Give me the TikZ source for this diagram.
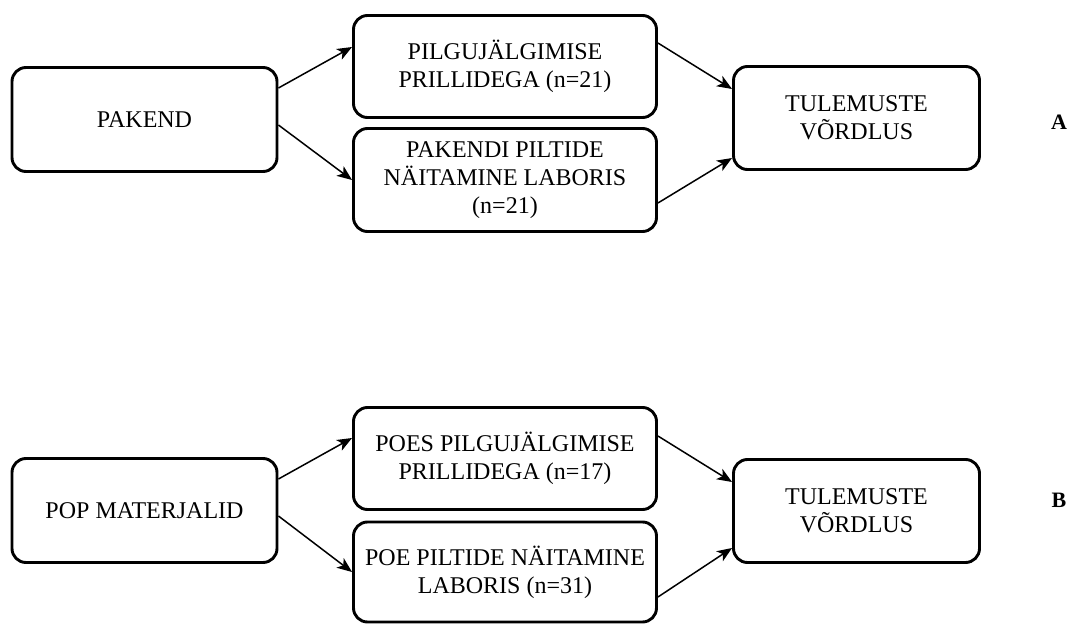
\documentclass[tikz,border=0pt]{standalone}
\usepackage{fontspec}
\setmainfont{Liberation Serif}
\usetikzlibrary{arrows.meta}
\begin{document}
\begin{tikzpicture}[x=1pt,y=-1pt,
  box/.style={draw=black, line width=2.9pt, rounded corners=14pt, align=center,
    font=\fontsize{24}{28}\selectfont, inner sep=0pt},
  conn/.style={line width=1.5pt, -{Stealth[length=15pt,width=12pt,inset=4pt]}},
  lbl/.style={font=\fontsize{22}{26}\selectfont\bfseries}]
\useasboundingbox (0,0) rectangle (1072,624);
% Part A
\node[box, minimum width=265pt, minimum height=104pt] (pak) at (144.5,119.5) {PAKEND};
\node[box, minimum width=303pt, minimum height=102pt] (pil1) at (505,66.5) {PILGUJÄLGIMISE\\PRILLIDEGA (n=21)};
\node[box, minimum width=303pt, minimum height=103pt] (pak2) at (505,180) {PAKENDI PILTIDE\\NÄITAMINE LABORIS\\(n=21)};
\node[box, minimum width=246pt, minimum height=103pt] (tul1) at (856.5,118) {TULEMUSTE\\VÕRDLUS};
\node[lbl] (la) at (1059,122) {A};
\draw[conn] ([yshift=31.5pt]pak.east) -- ([yshift=19.5pt]pil1.west);
\draw[conn] ([yshift=-5.5pt]pak.east) -- (pak2.west);
\draw[conn] ([yshift=23.5pt]pil1.east) -- ([yshift=29pt]tul1.west);
\draw[conn] ([yshift=-23pt]pak2.east) -- ([yshift=-40pt]tul1.west);
% Part B
\node[box, minimum width=265pt, minimum height=104pt] (popm) at (144.5,510.5) {POP MATERJALID};
\node[box, minimum width=303pt, minimum height=102pt] (poes) at (505,458.5) {POES PILGUJÄLGIMISE\\PRILLIDEGA (n=17)};
\node[box, minimum width=303pt, minimum height=100pt] (poe2) at (505,572) {POE PILTIDE NÄITAMINE\\LABORIS (n=31)};
\node[box, minimum width=246pt, minimum height=103pt] (tul2) at (856.5,511) {TULEMUSTE\\VÕRDLUS};
\node[lbl] (lb) at (1059,500) {B};
\draw[conn] ([yshift=31.5pt]popm.east) -- ([yshift=20.5pt]poes.west);
\draw[conn] ([yshift=-5.5pt]popm.east) -- (poe2.west);
\draw[conn] ([yshift=22.5pt]poes.east) -- ([yshift=29pt]tul2.west);
\draw[conn] ([yshift=-25pt]poe2.east) -- ([yshift=-37pt]tul2.west);
\end{tikzpicture}
\end{document}
